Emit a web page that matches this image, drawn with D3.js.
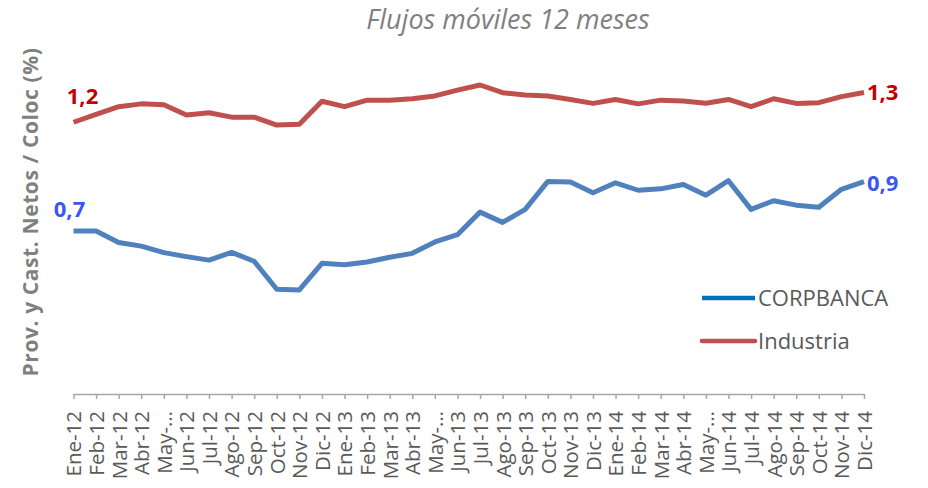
<!DOCTYPE html>
<html>
<head>
<meta charset="utf-8">
<script src="https://cdn.jsdelivr.net/npm/d3@7"></script>
<style>
  html, body { margin: 0; padding: 0; background: #fff; }
  svg { display: block; }
</style>
</head>
<body>
<svg id="chart" width="928" height="488"></svg>
<script>
const months = ["Ene-12","Feb-12","Mar-12","Abr-12","May-…","Jun-12","Jul-12","Ago-12","Sep-12","Oct-12","Nov-12","Dic-12",
  "Ene-13","Feb-13","Mar-13","Abr-13","May-…","Jun-13","Jul-13","Ago-13","Sep-13","Oct-13","Nov-13","Dic-13",
  "Ene-14","Feb-14","Mar-14","Abr-14","May-…","Jun-14","Jul-14","Ago-14","Sep-14","Oct-14","Nov-14","Dic-14"];
const monthKeys = months.map((m, i) => i);

const corpbanca = [0.700,0.700,0.651,0.635,0.607,0.590,0.575,0.608,0.570,0.450,0.447,0.561,
  0.555,0.567,0.587,0.604,0.653,0.684,0.781,0.737,0.793,0.913,0.910,0.864,
  0.907,0.875,0.881,0.900,0.854,0.916,0.793,0.830,0.811,0.802,0.879,0.912];
const industria = [1.167,1.201,1.234,1.246,1.242,1.198,1.208,1.189,1.189,1.155,1.158,1.257,
  1.234,1.262,1.262,1.268,1.280,1.305,1.327,1.294,1.284,1.280,1.265,1.248,
  1.265,1.246,1.262,1.258,1.249,1.265,1.234,1.268,1.248,1.251,1.277,1.295];

const seriesNames = ["CORPBANCA", "Industria"];
const titleText = "Flujos móviles 12 meses";
const yTitleText = "Prov. y Cast. Netos / Coloc (%)";

const svg = d3.select("#chart");
const fmt = v => d3.format(".1f")(v).replace(".", ",");

const x = d3.scalePoint().domain(monthKeys).range([73.5, 864]).padding(0);
const y = d3.scaleLinear().domain([0, 1.4]).range([394, 68]);

// Title
svg.append("text")
  .attr("x", 508).attr("y", 28.5)
  .attr("text-anchor", "middle")
  .attr("font-family", "Open Sans")
  .attr("font-style", "italic")
  .attr("font-size", 27)
  .attr("fill", "#808080")
  .text(titleText);

// Y title
svg.append("text")
  .attr("transform", "translate(38,212) rotate(-90)")
  .attr("text-anchor", "middle")
  .attr("font-family", "Open Sans")
  .attr("font-weight", "bold")
  .attr("font-size", 21)
  .attr("letter-spacing", 0.6)
  .attr("fill", "#7F7F7F")
  .text(yTitleText);

// X axis
const xAxis = d3.axisBottom(x).tickSize(5).tickSizeOuter(0).tickFormat(i => months[i]);
const gx = svg.append("g").attr("transform", "translate(0,394)").call(xAxis);
gx.select(".domain").attr("stroke", "#A6A6A6").attr("stroke-width", 1.5);
gx.selectAll(".tick line").attr("stroke", "#A6A6A6").attr("stroke-width", 1.5);
gx.selectAll(".tick text")
  .attr("transform", "rotate(-90)")
  .attr("x", -17).attr("y", 0).attr("dy", "0.36em")
  .attr("text-anchor", "end")
  .attr("font-family", "Open Sans")
  .attr("font-size", 20.5)
  .attr("fill", "#595959");

// Lines
const line = d3.line().x((d, i) => x(i)).y(d => y(d));
svg.append("path").datum(industria)
  .attr("d", line).attr("fill", "none")
  .attr("stroke", "#C0504D").attr("stroke-width", 5)
  .attr("stroke-linejoin", "round");
svg.append("path").datum(corpbanca)
  .attr("d", line).attr("fill", "none")
  .attr("stroke", "#4F81BD").attr("stroke-width", 5)
  .attr("stroke-linejoin", "round");

// Data labels
const lab = (txt, lx, ly, anchor, color) => svg.append("text")
  .attr("x", lx).attr("y", ly).attr("text-anchor", anchor)
  .attr("font-family", "Open Sans").attr("font-weight", "bold")
  .attr("font-size", 22).attr("fill", color).text(txt);
const last = months.length - 1;
lab(fmt(industria[0]), x(0) + 9, y(industria[0]) - 18, "middle", "#C00000");
lab(fmt(industria[last]), x(last) + 3, y(industria[last]) + 8, "start", "#C00000");
lab(fmt(corpbanca[0]), x(0) - 4, y(corpbanca[0]) - 14, "middle", "#3A56F5");
lab(fmt(corpbanca[last]), x(last) + 3, y(corpbanca[last]) + 9, "start", "#3A56F5");

// Legend
const legColors = ["#0070C0", "#C0504D"];
const leg = svg.append("g");
seriesNames.forEach((name, i) => {
  const ly = 298 + i * 43;
  leg.append("line").attr("x1", 702).attr("x2", 755).attr("y1", ly).attr("y2", ly)
    .attr("stroke", legColors[i]).attr("stroke-width", 4.5)
    .attr("stroke-linecap", i === 1 ? "round" : "butt");
  leg.append("text").attr("x", 758).attr("y", ly).attr("dy", "0.36em")
    .attr("font-family", "Open Sans").attr("font-size", 22).attr("fill", "#595959")
    .text(name);
});
</script>
</body>
</html>
